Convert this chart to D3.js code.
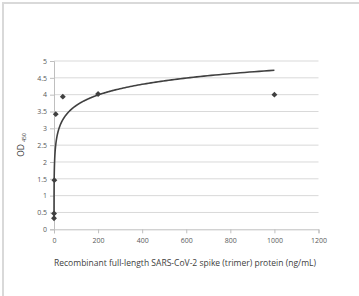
<!DOCTYPE html>
<html><head><meta charset="utf-8">
<script src="https://cdn.jsdelivr.net/npm/d3@7"></script>
<style>body{margin:0;background:#fff}svg{display:block}</style>
</head><body>
<svg id="c" width="359" height="296"></svg>
<script>
const concentrations = [0.064, 0.32, 1.6, 8, 40, 200, 1000];
const odValues = [0.33, 0.47, 1.46, 3.42, 3.94, 4.02, 4.0];
const xTicks = [0, 200, 400, 600, 800, 1000, 1200];
const yTicks = [0, 0.5, 1, 1.5, 2, 2.5, 3, 3.5, 4, 4.5, 5];
const xTitle = "Recombinant full-length SARS-CoV-2 spike (trimer) protein (ng/mL)";

const svg = d3.select("#c");
svg.append("rect").attr("x",3).attr("y",3).attr("width",400).attr("height",400)
  .attr("fill","none").attr("stroke","#d9d9d9").attr("stroke-width",2);

const x = d3.scaleLinear().domain([0,1200]).range([54,318.5]);
const y = d3.scaleLinear().domain([0,5]).range([229.3,61]);
const font = "'Open Sans', 'Liberation Sans', Arial, sans-serif";

svg.append("g").selectAll("line").data(yTicks.filter(d=>d>0)).join("line")
  .attr("x1",x(0)).attr("x2",x(1200)).attr("y1",d=>y(d)).attr("y2",d=>y(d))
  .attr("stroke","#d9d9d9").attr("stroke-width",1);

const yAxis = svg.append("g").attr("transform",`translate(${x(0)},0)`)
  .call(d3.axisLeft(y).tickValues(yTicks).tickSize(4).tickPadding(3).tickFormat(d=>String(d)));
const xAxis = svg.append("g").attr("transform",`translate(0,${y(0)})`)
  .call(d3.axisBottom(x).tickValues(xTicks).tickSize(4).tickPadding(5).tickFormat(d=>String(d)));
[yAxis,xAxis].forEach(g=>{
  g.select(".domain").attr("stroke","#bfbfbf");
  g.selectAll(".tick line").attr("stroke","#bfbfbf");
  g.selectAll(".tick text").attr("fill","#595959").attr("font-size",7).attr("font-family",font);
});

const lx = concentrations.map(Math.log);
const mx = d3.mean(lx), my = d3.mean(odValues);
const a = d3.sum(lx.map((v,i)=>(v-mx)*(odValues[i]-my))) / d3.sum(lx.map(v=>(v-mx)*(v-mx)));
const b = my - a*mx;
const xmin = d3.min(concentrations), xmax = d3.max(concentrations);
const curve = d3.range(0,401).map(i=>Math.exp(Math.log(xmin)+(Math.log(xmax)-Math.log(xmin))*i/400));
svg.append("path").datum(curve)
  .attr("d", d3.line().x(d=>x(d)).y(d=>y(Math.max(0,a*Math.log(d)+b))))
  .attr("fill","none").attr("stroke","#404040").attr("stroke-width",1.6);

svg.append("g").selectAll("path").data(concentrations).join("path")
  .attr("transform",(d,i)=>`translate(${x(d)},${y(odValues[i])})`)
  .attr("d", d3.symbol(d3.symbolDiamond2 || d3.symbolDiamond, 22)())
  .attr("fill","#404040");

svg.append("text").attr("x",185).attr("y",266).attr("text-anchor","middle")
  .attr("font-size",8.3).attr("font-family",font).attr("fill","#404040")
  .attr("textLength",262).attr("lengthAdjust","spacingAndGlyphs").text(xTitle);
const yt = svg.append("text").attr("transform","translate(24,145) rotate(-90)")
  .attr("text-anchor","middle").attr("font-size",8.5).attr("font-family",font).attr("fill","#404040");
yt.append("tspan").text("OD ");
yt.append("tspan").attr("font-size",5).attr("dy",2).text("450");
</script>
</body></html>
